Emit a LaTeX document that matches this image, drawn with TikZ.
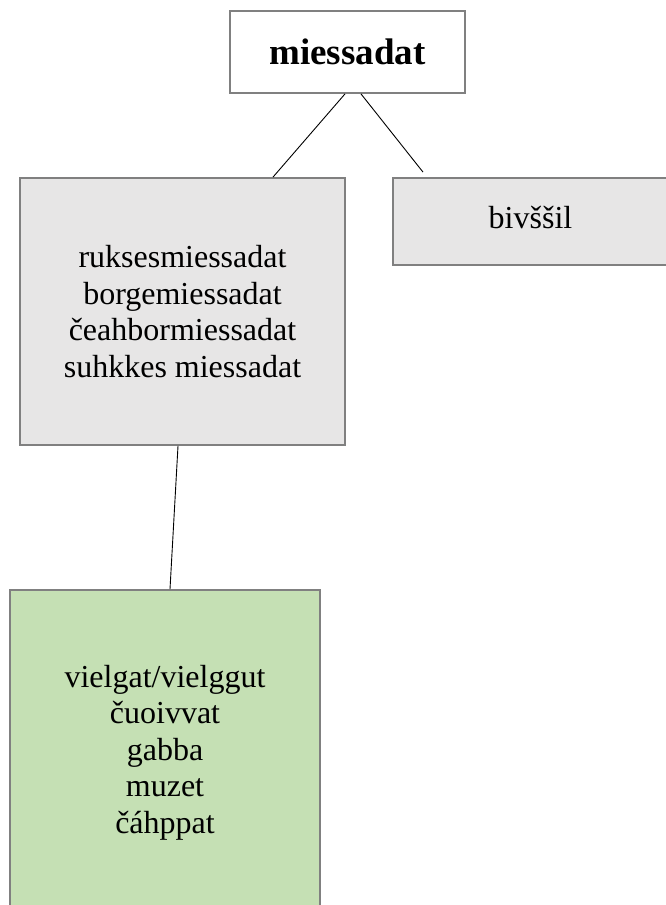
\documentclass[tikz,border=0pt]{standalone}
\usepackage{fontspec}
\setmainfont{Liberation Serif}
\usepackage{xcolor}
\usepackage{tikz}

\definecolor{boxgray}{HTML}{E7E6E6}
\definecolor{edgegray}{HTML}{808080}
\definecolor{boxgreen}{HTML}{C5E0B4}

\tikzset{
	box/.style={rectangle, draw=edgegray, line width=1.8pt, align=center, inner sep=0pt,
		font=\fontsize{32}{36.5}\selectfont},
	link/.style={draw=black, line width=0.9pt}
}

\begin{document}
\begin{tikzpicture}[x=1pt,y=-1pt]
				\useasboundingbox (0,0) rectangle (666,905);
				\clip (0,0) rectangle (666,905);
				
				% top
				\node[box, fill=white, minimum width=235pt, minimum height=82pt,
					font=\fontsize{37}{42}\selectfont\bfseries] (miessadat) at (347.5,52) {miessadat};
				
				% second row
				\node[box, fill=boxgray, minimum width=325pt, minimum height=267pt] (ruksa) at (182.5,311.5)
					{ruksesmiessadat\\borgemiessadat\\čeahbormiessadat\\suhkkes miessadat};
				\node[box, fill=boxgray, minimum width=275pt, minimum height=87pt] (bivssil) at (530.5,221.5)
					{\raisebox{8pt}{bivššil}};
				
				% bottom
				\node[box, fill=boxgreen, minimum width=310pt, minimum height=325pt] (vielgat) at (165,752.5)
					{vielgat/vielggut\\čuoivvat\\gabba\\muzet\\čáhppat};
				
				\coordinate (m1) at ([xshift=-2.5pt]miessadat.south);
				\coordinate (m2) at ([xshift=13.5pt]miessadat.south);
				\coordinate (r1) at ([xshift=90.5pt]ruksa.north);
				\coordinate (b1) at ([xshift=-107.5pt, yshift=5pt]bivssil.north);
				\coordinate (r2) at ([xshift=-4.5pt]ruksa.south);
				\coordinate (v1) at ([xshift=5pt]vielgat.north);
				
				\foreach \x/\y in
				{m1/r1, m2/b1, r2/v1}{
					\draw[link] (\x)--(\y);
				}
			\end{tikzpicture}
\end{document}
